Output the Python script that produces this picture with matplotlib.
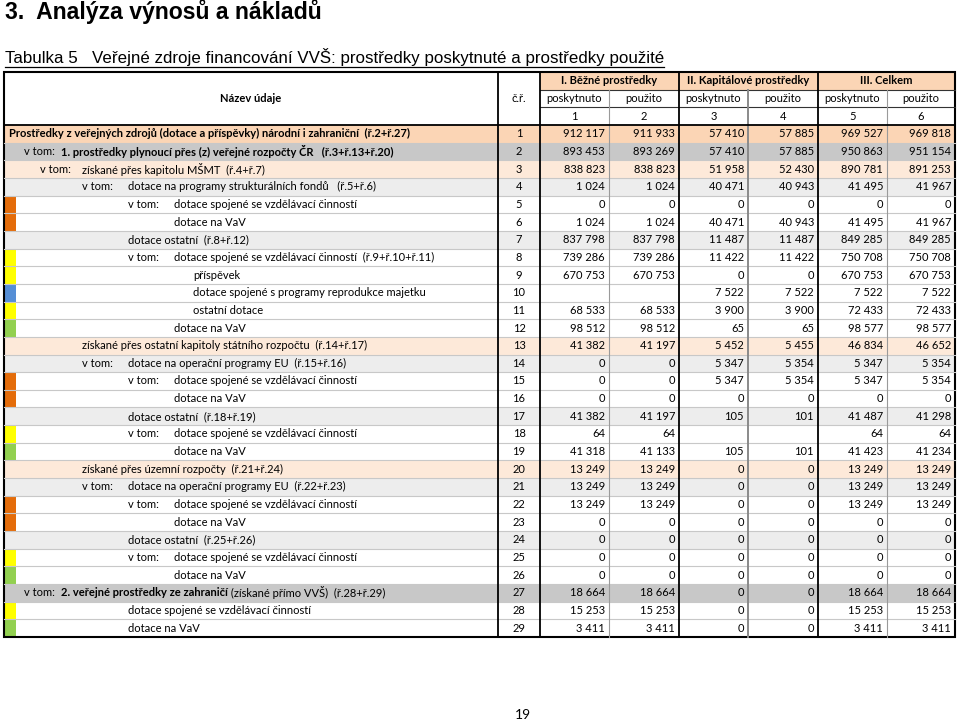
import matplotlib.pyplot as plt
from matplotlib.patches import Rectangle

# --- data ---------------------------------------------------------------
row_no = list(range(1, 30))
row_label = [
    "Prostředky z veřejných zdrojů (dotace a příspěvky) národní i zahraniční  (ř.2+ř.27)",
    "1. prostředky plynoucí přes (z) veřejné rozpočty ČR   (ř.3+ř.13+ř.20)",
    "získané přes kapitolu MŠMT  (ř.4+ř.7)",
    "dotace na programy strukturálních fondů   (ř.5+ř.6)",
    "dotace spojené se vzdělávací činností",
    "dotace na VaV",
    "dotace ostatní  (ř.8+ř.12)",
    "dotace spojené se vzdělávací činností  (ř.9+ř.10+ř.11)",
    "příspěvek",
    "dotace spojené s programy reprodukce majetku",
    "ostatní dotace",
    "dotace na VaV",
    "získané přes ostatní kapitoly státního rozpočtu  (ř.14+ř.17)",
    "dotace na operační programy EU  (ř.15+ř.16)",
    "dotace spojené se vzdělávací činností",
    "dotace na VaV",
    "dotace ostatní  (ř.18+ř.19)",
    "dotace spojené se vzdělávací činností",
    "dotace na VaV",
    "získané přes územní rozpočty  (ř.21+ř.24)",
    "dotace na operační programy EU  (ř.22+ř.23)",
    "dotace spojené se vzdělávací činností",
    "dotace na VaV",
    "dotace ostatní  (ř.25+ř.26)",
    "dotace spojené se vzdělávací činností",
    "dotace na VaV",
    "2. veřejné prostředky ze zahraničí",
    "dotace spojené se vzdělávací činností",
    "dotace na VaV",
]
label_tail = [""] * 29
label_tail[26] = " (získané přímo VVŠ)  (ř.28+ř.29)"

row_level = [0, 1, 2, 3, 4, 4, 3, 4, 5, 5, 5, 4, 2, 3, 4, 4, 3, 4, 4,
             2, 3, 4, 4, 3, 4, 4, 1, 3, 3]
row_vtom = [0, 1, 1, 1, 1, 0, 0, 1, 0, 0, 0, 0, 0, 1, 1, 0, 0, 1, 0,
            0, 1, 1, 0, 0, 1, 0, 1, 0, 0]
row_kind = ["total", "sum1", "sum2", "sum3", "", "", "sum3", "", "", "", "", "",
            "sum2", "sum3", "", "", "sum3", "", "",
            "sum2", "sum3", "", "", "sum3", "", "", "sum1", "", ""]
row_marker = ["", "", "", "", "S", "S", "", "E", "E", "R", "E", "V",
              "", "", "S", "S", "", "E", "V",
              "", "", "S", "S", "", "E", "V", "", "E", "V"]

group_names = ["I. Běžné prostředky", "II. Kapitálové prostředky", "III. Celkem"]
sub_names = ["poskytnuto", "použito"]

bezne_poskytnuto = [912117, 893453, 838823, 1024, 0, 1024, 837798, 739286, 670753, None,
                    68533, 98512, 41382, 0, 0, 0, 41382, 64, 41318,
                    13249, 13249, 13249, 0, 0, 0, 0, 18664, 15253, 3411]
bezne_pouzito = [911933, 893269, 838823, 1024, 0, 1024, 837798, 739286, 670753, None,
                 68533, 98512, 41197, 0, 0, 0, 41197, 64, 41133,
                 13249, 13249, 13249, 0, 0, 0, 0, 18664, 15253, 3411]
kap_poskytnuto = [57410, 57410, 51958, 40471, 0, 40471, 11487, 11422, 0, 7522,
                  3900, 65, 5452, 5347, 5347, 0, 105, None, 105,
                  0, 0, 0, 0, 0, 0, 0, 0, 0, 0]
kap_pouzito = [57885, 57885, 52430, 40943, 0, 40943, 11487, 11422, 0, 7522,
               3900, 65, 5455, 5354, 5354, 0, 101, None, 101,
               0, 0, 0, 0, 0, 0, 0, 0, 0, 0]
celkem_poskytnuto = [969527, 950863, 890781, 41495, 0, 41495, 849285, 750708, 670753, 7522,
                     72433, 98577, 46834, 5347, 5347, 0, 41487, 64, 41423,
                     13249, 13249, 13249, 0, 0, 0, 0, 18664, 15253, 3411]
celkem_pouzito = [969818, 951154, 891253, 41967, 0, 41967, 849285, 750708, 670753, 7522,
                  72433, 98577, 46652, 5354, 5354, 0, 41298, 64, 41234,
                  13249, 13249, 13249, 0, 0, 0, 0, 18664, 15253, 3411]
columns = [bezne_poskytnuto, bezne_pouzito, kap_poskytnuto, kap_pouzito,
           celkem_poskytnuto, celkem_pouzito]

# --- styles -------------------------------------------------------------
kind_color = {"total": "#FBD5B5", "sum1": "#C8C8C8", "sum2": "#FDE9D9",
              "sum3": "#EDEDED", "": "white"}
marker_color = {"S": "#E46C0A", "E": "#FFFF00", "R": "#558ED5", "V": "#92D050"}
FONT = "Lato"
FS = 8.0
text_x = {0: 9, 1: 61, 2: 82, 3: 128, 4: 174, 5: 193}
vtom_x = {1: 24, 2: 40, 3: 82, 4: 128}

xe = [4, 498, 540, 609, 679, 748, 818, 887, 955]
y_top, y_bot = 72, 637
rh = (y_bot - y_top) / 32
y_data = y_top + 3 * rh


def fmt(v):
    return "" if v is None else f"{v:,}".replace(",", " ")


fig = plt.figure(figsize=(9.6, 7.22), dpi=100)
ax = fig.add_axes([0, 0, 1, 1])
ax.set_xlim(0, 960)
ax.set_ylim(722, 0)
ax.axis("off")

# titles
ax.text(5, 19.5, "3.  Analýza výnosů a nákladů", family="Liberation Sans",
        weight="bold", fontsize=16.6, va="baseline")
sub = ax.text(5, 63.5, "Tabulka 5   Veřejné zdroje financování VVŠ: prostředky poskytnuté a prostředky použité",
              family="Liberation Sans", fontsize=12.2, va="baseline")
fig.canvas.draw()
renderer = fig.canvas.get_renderer()
inv = ax.transData.inverted()
bb = sub.get_window_extent(renderer)
x0 = inv.transform((bb.x0, bb.y0))[0]
x1 = inv.transform((bb.x1, bb.y0))[0]
ax.plot([x0, x1], [66.5, 66.5], color="black", lw=0.9)

# header
ax.add_patch(Rectangle((xe[2], y_top), xe[8] - xe[2], rh, facecolor=kind_color["total"], lw=0))
hc = y_top + 1.5 * rh
ax.text((xe[0] + xe[1]) / 2, hc, "Název údaje", family=FONT, weight="bold",
        fontsize=FS, ha="center", va="center")
ax.text((xe[1] + xe[2]) / 2, hc, "č.ř.", family=FONT, fontsize=FS, ha="center", va="center")
for g, name in enumerate(group_names):
    ax.text((xe[2 + 2 * g] + xe[4 + 2 * g]) / 2, y_top + 0.5 * rh, name, family=FONT,
            weight="bold", fontsize=FS, ha="center", va="center")
for c in range(6):
    cx = (xe[2 + c] + xe[3 + c]) / 2
    ax.text(cx, y_top + 1.5 * rh, sub_names[c % 2], family=FONT, fontsize=FS,
            ha="center", va="center")
    ax.text(cx, y_top + 2.5 * rh, str(c + 1), family=FONT, fontsize=FS,
            ha="center", va="center")
for k in (1, 2):
    ax.plot([xe[2], xe[8]], [y_top + k * rh] * 2, color="#333333", lw=0.8)

# data rows
for i in range(29):
    yt = y_data + i * rh
    yc = yt + rh / 2
    ax.add_patch(Rectangle((xe[0], yt), xe[8] - xe[0], rh,
                           facecolor=kind_color[row_kind[i]], lw=0))
    if row_marker[i]:
        ax.add_patch(Rectangle((xe[0], yt), 12, rh,
                               facecolor=marker_color[row_marker[i]], lw=0))
    lvl = row_level[i]
    if row_vtom[i]:
        ax.text(vtom_x[lvl], yc, "v tom:", family=FONT, fontsize=FS, va="center")
    bold = i in (0, 1, 26)
    t = ax.text(text_x[lvl], yc, row_label[i], family=FONT, fontsize=FS,
                weight="bold" if bold else "normal", va="center")
    if label_tail[i]:
        bb = t.get_window_extent(renderer)
        xt = inv.transform((bb.x1, bb.y0))[0]
        ax.text(xt, yc, label_tail[i], family=FONT, fontsize=FS, va="center")
    ax.text((xe[1] + xe[2]) / 2, yc, str(row_no[i]), family=FONT, fontsize=FS,
            ha="center", va="center")
    for c in range(6):
        ax.text(xe[3 + c] - 4, yc, fmt(columns[c][i]), family=FONT, fontsize=FS,
                ha="right", va="center")
    if i > 0:
        ax.plot([xe[0], xe[8]], [yt, yt], color="#C8C8C8", lw=0.8)

# grid lines
for x in (xe[3], xe[7]):
    ax.plot([x, x], [y_top + rh, y_bot], color="#9A9A9A", lw=0.8)
ax.plot([xe[5], xe[5]], [y_top + rh, y_bot], color="#8A8A8A", lw=1.4)
for x in (xe[1], xe[2], xe[4], xe[6]):
    ax.plot([x, x], [y_top, y_bot], color="black", lw=1.3)
ax.plot([xe[0], xe[8]], [y_data, y_data], color="black", lw=1.3)
ax.add_patch(Rectangle((xe[0], y_top), xe[8] - xe[0], y_bot - y_top,
                       fill=False, edgecolor="black", lw=1.5))

ax.text(523, 715, "19", family=FONT, fontsize=10, ha="center", va="center")

fig.savefig("out.png", dpi=100)
